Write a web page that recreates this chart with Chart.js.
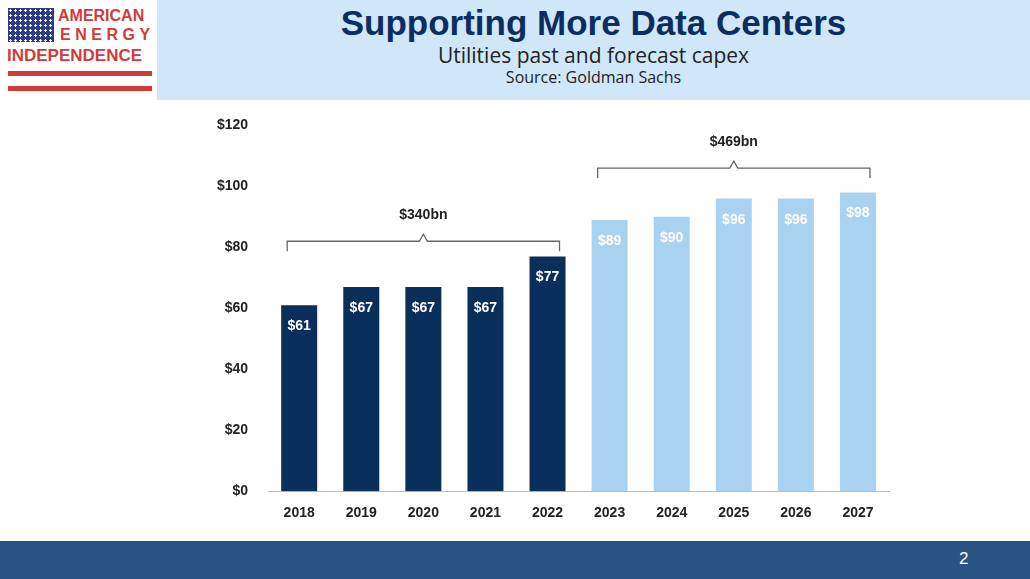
<!DOCTYPE html>
<html>
<head>
<meta charset="utf-8">
<script src="https://cdn.jsdelivr.net/npm/chart.js@4"></script>
<style>
  body { margin: 0; width: 1030px; height: 579px; background: #fff; font-family: Arial, "Liberation Sans", sans-serif; position: relative; overflow: hidden; }
  #head { position: absolute; left: 157px; top: 0; width: 873px; height: 100px; background: #cfe7f9; text-align: center; }
  #head h1 { margin: 3px 0 0; font-size: 35px; color: #0c2d5f; font-weight: bold; }
  #head .sub { font-family: "Open Sans", sans-serif; font-size: 21px; color: #222; margin-top: -2px; }
  #head .src { font-family: "Open Sans", sans-serif; font-size: 16px; color: #222; margin-top: -3px; }
  #logo { position: absolute; left: 6px; top: 5px; width: 148px; }
  #flag { position: absolute; left: 2px; top: 3px; width: 46px; height: 34px; background: #2b3a8c;
    background-image: radial-gradient(#fff 1px, transparent 1.3px); background-size: 5px 5px; }
  .lt { position: absolute; color: #d23a3a; font-weight: bold; font-size: 16px; white-space: nowrap; }
  .stripe { position: absolute; left: 2px; width: 144px; height: 5px; background: #d23a3a; }
  #foot { position: absolute; left: 0; top: 541px; width: 1030px; height: 38px; background: #2a5283; color: #fff; }
  #foot span { position: absolute; left: 959px; top: 8px; font-size: 17px; }
  #wrap { position: absolute; left: 205px; top: 105px; width: 702px; height: 423px; }
</style>
</head>
<body>
<div id="logo">
  <div id="flag"></div>
  <div class="lt" style="left:52px;top:2px">AMERICAN</div>
  <div class="lt" style="left:54px;top:21px;letter-spacing:4.5px">ENERGY</div>
  <div class="lt" style="left:1px;top:41px;font-size:17px">INDEPENDENCE</div>
  <div class="stripe" style="top:66px"></div>
  <div class="stripe" style="top:81px"></div>
</div>
<div id="head">
  <h1>Supporting More Data Centers</h1>
  <div class="sub">Utilities past and forecast capex</div>
  <div class="src">Source: Goldman Sachs</div>
</div>
<div id="wrap"><canvas id="c"></canvas></div>
<div id="foot"><span>2</span></div>
<script>
const years = ['2018','2019','2020','2021','2022','2023','2024','2025','2026','2027'];
const capex = [61, 67, 67, 67, 77, 89, 90, 96, 96, 98];
const colors = ['#0b2f5b','#0b2f5b','#0b2f5b','#0b2f5b','#0b2f5b','#a9d2f0','#a9d2f0','#a9d2f0','#a9d2f0','#a9d2f0'];
const brackets = [
  { from: 0, to: 4, y: 82, label: '$340bn' },
  { from: 5, to: 9, y: 106, label: '$469bn' }
];

const overlay = {
  id: 'overlay',
  afterDatasetsDraw(chart) {
    const ctx = chart.ctx, x = chart.scales.x, y = chart.scales.y;
    const meta = chart.getDatasetMeta(0);
    ctx.save();
    ctx.font = 'bold 14px Arial, "Liberation Sans", sans-serif';
    ctx.textAlign = 'center';
    ctx.fillStyle = '#fff';
    meta.data.forEach((b, i) => {
      ctx.fillText('$' + capex[i], b.x, b.y + 25);
    });
    brackets.forEach(br => {
      const x0 = x.getPixelForValue(br.from) - 12, x1 = x.getPixelForValue(br.to) + 12;
      const yy = y.getPixelForValue(br.y), mid = (x0 + x1) / 2;
      ctx.strokeStyle = '#666'; ctx.lineWidth = 1.3;
      ctx.beginPath();
      ctx.moveTo(x0, yy + 10); ctx.lineTo(x0, yy); ctx.lineTo(mid - 4, yy); ctx.lineTo(mid, yy - 7);
      ctx.lineTo(mid + 4, yy); ctx.lineTo(x1, yy); ctx.lineTo(x1, yy + 10);
      ctx.stroke();
      ctx.fillStyle = '#222';
      ctx.fillText(br.label, mid, yy - 22);
    });
    ctx.restore();
  }
};

new Chart(document.getElementById('c'), {
  type: 'bar',
  data: { labels: years, datasets: [{ data: capex, backgroundColor: colors, categoryPercentage: 1, barPercentage: 0.58 }] },
  options: {
    responsive: true, maintainAspectRatio: false, animation: false,
    layout: { padding: { right: 18, top: 8 } },
    plugins: { legend: { display: false }, tooltip: { enabled: false } },
    scales: {
      x: { grid: { display: false }, border: { color: '#bbb' },
           ticks: { color: '#222', padding: 6, font: { size: 14, weight: 'bold' } } },
      y: { min: 0, max: 120, grid: { display: false }, border: { display: false },
           ticks: { stepSize: 20, color: '#222', padding: 12, font: { size: 14, weight: 'bold' }, callback: v => '$' + v } }
    }
  },
  plugins: [overlay]
});
</script>
</body>
</html>
